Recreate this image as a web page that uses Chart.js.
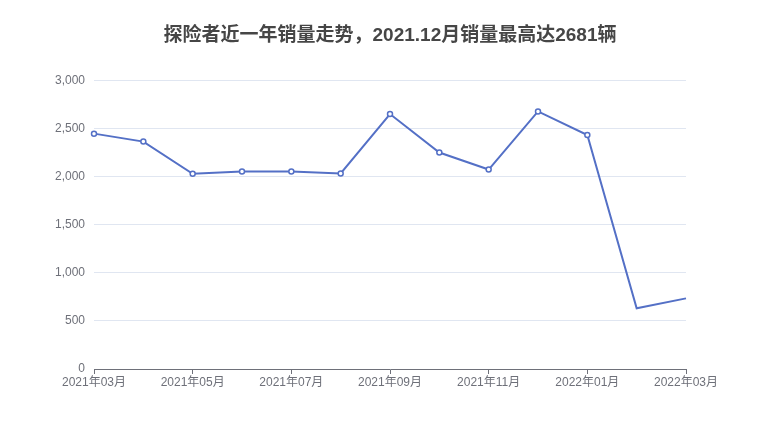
<!DOCTYPE html>
<html>
<head>
<meta charset="utf-8">
<script src="https://cdn.jsdelivr.net/npm/chart.js@4/dist/chart.umd.min.js"></script>
<style>
  html, body { margin: 0; padding: 0; background: #fff; }
  #wrap { width: 780px; height: 440px; }
</style>
</head>
<body>
<div id="wrap"><canvas id="salesChart" width="780" height="440"></canvas></div>
<script>
// 月份
const months = ['2021年03月', '2021年04月', '2021年05月', '2021年06月', '2021年07月', '2021年08月',
  '2021年09月', '2021年10月', '2021年11月', '2021年12月', '2022年01月', '2022年02月', '2022年03月'];
// 销量
const sales = [2450, 2367, 2032, 2057, 2055, 2036, 2654, 2253, 2076, 2681, 2436, 632, 735];
const yTicks = [0, 500, 1000, 1500, 2000, 2500, 3000];

const fontFamily = '"Liberation Sans", Arial, "Noto Sans CJK SC", sans-serif';
const ctx = document.getElementById('salesChart').getContext('2d');

new Chart(ctx, {
  type: 'line',
  data: {
    labels: months,
    datasets: [{
      label: '销量',
      data: sales,
      borderColor: '#5470c6',
      backgroundColor: '#ffffff',
      borderWidth: 2,
      // 最后两个点没有标记
      pointRadius: c => (c.dataIndex >= sales.length - 2 ? 0 : 2.5),
      pointBorderWidth: 1.5,
      pointBorderColor: '#5470c6',
      pointBackgroundColor: '#ffffff',
      tension: 0,
      yAxisID: 'y'
    }]
  },
  options: {
    responsive: false,
    animation: false,
    layout: { padding: 0 },
    plugins: {
      legend: { display: false },
      tooltip: { enabled: false },
      title: {
        display: true,
        text: '探险者近一年销量走势，2021.12月销量最高达2681辆',
        color: '#464646',
        font: { family: fontFamily, size: 19, weight: 'bold' },
        padding: { top: 24, bottom: 34 }
      }
    },
    scales: {
      x: {
        offset: false,
        grid: { drawOnChartArea: false, drawTicks: true, tickLength: 5, color: '#6e7079' },
        border: { display: true, color: '#6e7079', width: 1 },
        ticks: {
          autoSkip: false,
          maxRotation: 0,
          padding: 1,
          color: '#6e7079',
          font: { family: fontFamily, size: 12 },
          callback: function(v, i) { return i % 2 === 0 ? months[i] : null; }
        },
        afterFit: function(scale) { scale.height = 71; }
      },
      y: {
        position: 'left',
        min: 0,
        max: 3000,
        afterBuildTicks: function(scale) { scale.ticks = yTicks.map(v => ({ value: v })); },
        grid: { color: '#e0e6f1', drawTicks: false },
        border: { display: false },
        ticks: {
          padding: 9,
          color: '#6e7079',
          font: { family: fontFamily, size: 12 },
          callback: v => v.toLocaleString('en-US')
        },
        afterFit: function(scale) { scale.width = 94; }
      },
      // 右侧留白
      yRight: {
        position: 'right',
        min: 0,
        max: 3000,
        grid: { display: false },
        border: { display: false },
        ticks: { display: false },
        afterFit: function(scale) { scale.width = 94; }
      }
    }
  }
});
</script>
</body>
</html>
